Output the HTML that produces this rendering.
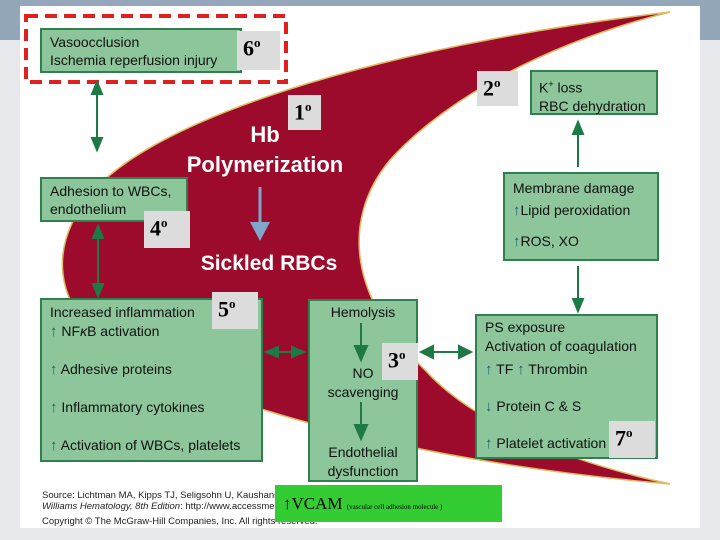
<!DOCTYPE html>
<html><head><meta charset="utf-8"><style>
body{margin:0;width:720px;height:540px;overflow:hidden;background:#e6e8eb;position:relative;font-family:"Liberation Sans",sans-serif}
.band{position:absolute;left:0;top:0;width:720px;height:40px;background:#93a6ba}
.panel{position:absolute;left:20px;top:6px;width:680px;height:522px;background:#fff}
.b{position:absolute;background:#8cc69a;border:2px solid #2f7f4f;box-sizing:border-box;font-size:14px;color:#111;line-height:18px;padding:3px 8px;white-space:nowrap}
.g{position:absolute;background:#dcdcdc;font-family:"Liberation Serif",serif;font-weight:bold;font-size:22px;color:#000;box-sizing:border-box;padding:4px 0 0 6px}
.g sup{font-size:13px}
.up{color:#1a5f7a;font-size:15px}
.w{position:absolute;color:#fff;font-weight:bold;text-align:center}
svg{position:absolute;left:0;top:0}
</style></head><body>
<div class="band"></div>
<div class="panel"></div>
<svg width="720" height="540">
<path d="M670,12 C430,40 200,100 110,175 C40,235 45,320 140,362 C260,420 450,465 670,484 C560,460 470,420 425,370 C350,300 340,220 390,160 C430,115 520,50 670,12 Z" fill="#9c0a2c" stroke="#e0b860" stroke-width="1.5"/>
<rect x="26" y="16" width="260" height="66" fill="none" stroke="#e0201e" stroke-width="4" stroke-dasharray="12,7"/>
<g stroke="#1e7a45" stroke-width="2" fill="#1e7a45">
<line x1="97" y1="90" x2="97" y2="142"/><polygon points="97,82 92,94 102,94"/><polygon points="97,150 92,138 102,138"/>
<line x1="98" y1="234" x2="98" y2="288"/><polygon points="98,226 93,238 103,238"/><polygon points="98,296 93,284 103,284"/>
<line x1="578" y1="130" x2="578" y2="167"/><polygon points="578,122 573,134 583,134"/>
<line x1="578" y1="266" x2="578" y2="303"/><polygon points="578,311 573,299 583,299"/>
<line x1="274" y1="352" x2="298" y2="352"/><polygon points="266,352 278,347 278,357"/><polygon points="304,352 292,347 292,357"/>
<line x1="430" y1="352" x2="462" y2="352"/><polygon points="421,352 433,346 433,358"/><polygon points="471,352 459,346 459,358"/>
</g>
<line x1="260" y1="187" x2="260" y2="225" stroke="#7fa6cb" stroke-width="3"/><polygon points="260,241 250,222 270,222" fill="#7fa6cb"/>
</svg>
<div class="b" style="left:40px;top:28px;width:202px;height:45px">Vasoocclusion<br>Ischemia reperfusion injury</div>
<div class="g" style="left:237px;top:31px;width:43px;height:39px">6<sup>o</sup></div>
<div class="g" style="left:477px;top:71px;width:41px;height:35px">2<sup>o</sup></div>
<div class="b" style="left:530px;top:70px;width:128px;height:45px;padding-left:7px">K<sup style="font-size:9px">+</sup> loss<br>RBC dehydration</div>
<div class="g" style="left:288px;top:95px;width:33px;height:35px">1<sup>o</sup></div>
<div class="w" style="left:160px;top:120px;width:210px;font-size:22px;line-height:30px">Hb<br>Polymerization</div>
<div class="b" style="left:40px;top:177px;width:148px;height:45px">Adhesion to WBCs,<br>endothelium</div>
<div class="g" style="left:144px;top:211px;width:46px;height:37px">4<sup>o</sup></div>
<div class="w" style="left:185px;top:252px;width:168px;font-size:21px">Sickled RBCs</div>
<div class="b" style="left:503px;top:172px;width:156px;height:89px;line-height:22px;padding-top:3px">Membrane damage<br><span class="up">↑</span>Lipid peroxidation<br><span style="line-height:38px"><span class="up">↑</span>ROS, XO</span></div>
<div class="b" style="left:40px;top:298px;width:223px;height:164px;line-height:19px;padding-top:3px">Increased inflammation<br><span class="up">↑</span> NF<i>κ</i>B activation<br><div style="height:19px"></div><span class="up">↑</span> Adhesive proteins<br><div style="height:19px"></div><span class="up">↑</span> Inflammatory cytokines<br><div style="height:19px"></div><span class="up">↑</span> Activation of WBCs, platelets</div>
<div class="g" style="left:212px;top:292px;width:46px;height:37px">5<sup>o</sup></div>
<div class="b" style="left:308px;top:299px;width:110px;height:183px;text-align:center;padding:2px 0;line-height:19px">Hemolysis<br><div style="height:42px"></div>NO<br>scavenging<br><div style="height:41px"></div>Endothelial<br>dysfunction</div>
<div class="g" style="left:382px;top:343px;width:36px;height:37px">3<sup>o</sup></div>
<div class="b" style="left:475px;top:314px;width:183px;height:145px;line-height:19px;padding-top:2px">PS exposure<br>Activation of coagulation<br><div style="height:4px"></div><span class="up">↑</span> TF <span class="up">↑</span> Thrombin<br><div style="height:18px"></div><span class="up">↓</span> Protein C &amp; S<br><div style="height:18px"></div><span class="up">↑</span> Platelet activation</div>
<div class="g" style="left:609px;top:421px;width:46px;height:37px">7<sup>o</sup></div>
<svg width="720" height="540">
<g stroke="#1e7a45" stroke-width="2" fill="#1e7a45">
<line x1="361" y1="323" x2="361" y2="350"/><polygon points="361,360 355,346 367,346"/>
<line x1="361" y1="402" x2="361" y2="428"/><polygon points="361,439 355,425 367,425"/>
</g></svg>
<div style="position:absolute;left:42px;top:490px;font-size:9.5px;color:#222;line-height:11px">Source: Lichtman MA, Kipps TJ, Seligsohn U, Kaushansky K, Prchal JT:<br><i>Williams Hematology, 8th Edition</i>: http://www.accessmedicine.com<br><div style="height:4px"></div>Copyright © The McGraw-Hill Companies, Inc. All rights reserved.</div>
<div style="position:absolute;left:275px;top:485px;width:227px;height:37px;background:#33cc33;font-family:'Liberation Serif',serif;font-size:17px;color:#000;line-height:37px;padding-left:8px;box-sizing:border-box">↑VCAM <span style="font-size:7px">(vascular cell adhesion molecule )</span></div>
</body></html>
